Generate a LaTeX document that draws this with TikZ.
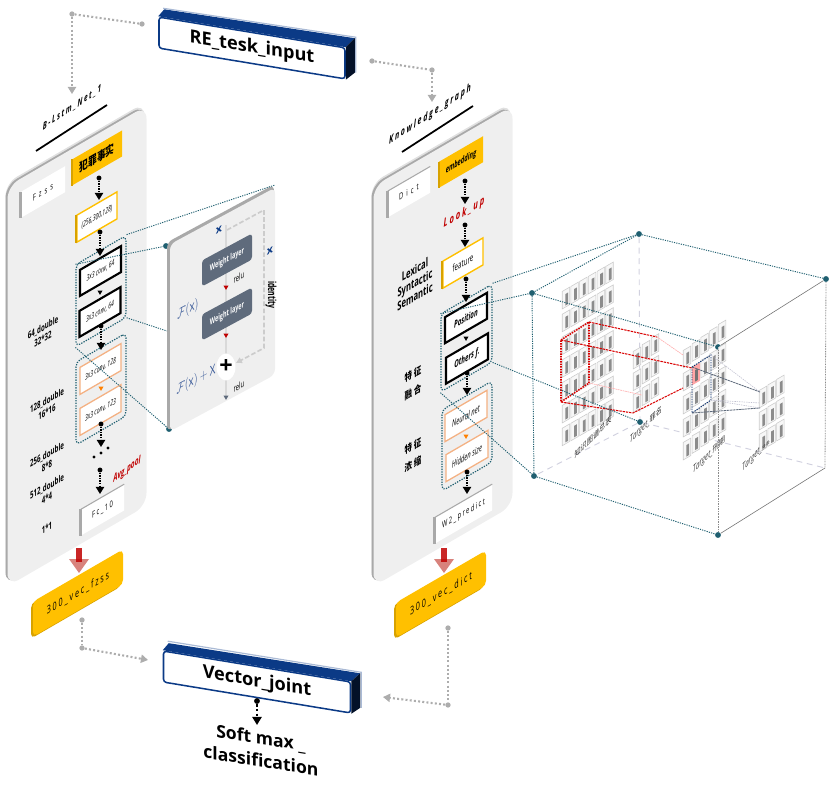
\documentclass[tikz,border=0pt]{standalone}
\usepackage{amsmath}
\usepackage{fontspec}
\usetikzlibrary{arrows.meta,shapes.geometric}
\setmainfont{Open Sans}
\newfontfamily\narrowfont[FakeStretch=0.62]{Open Sans}
\newfontfamily\spacedfont[FakeStretch=0.65,LetterSpace=16]{Open Sans}
\newfontfamily\widefont[FakeStretch=0.65,LetterSpace=34]{Open Sans}
\newfontfamily\cjk[FakeStretch=0.75]{Noto Sans CJK SC}
\definecolor{panelgray}{HTML}{EFEFEF}
\definecolor{edgegray}{HTML}{A9A9A9}
\definecolor{goldfill}{HTML}{FFC000}
\definecolor{golddark}{HTML}{D8A200}
\definecolor{peach}{HTML}{F4B183}
\definecolor{navyblue}{HTML}{0B3A86}
\definecolor{teal}{HTML}{1F5F70}
\definecolor{slate}{HTML}{5F6B7C}
\definecolor{redtext}{HTML}{C00000}
\definecolor{mathblue}{HTML}{3B5B99}
\definecolor{salmon}{HTML}{D8827C}
\def\px{0.03cm}
\tikzset{
  skew/.style={yslant=0.58,transform shape},
  resskew/.style={yslant=0.54,transform shape},
  flatbox/.style={skew,inner sep=0pt,align=center,minimum width=#1*\px},
  panelbox/.style={skew,fill=panelgray,rounded corners=11pt,minimum width=139*\px,minimum height=400*\px},
  panelback/.style={panelbox,fill=edgegray},
  panelshade/.style={panelbox,fill=black!12},
  tagbox/.style={flatbox=#1,fill=white,minimum height=26*\px,font=\spacedfont\fontsize{7.6}{9}\selectfont},
  tagedge/.style={edgegray,line width=2.4pt},
  tagtop/.style={edgegray,line width=0.9pt},
  goldbox/.style={flatbox=#1,fill=goldfill,minimum height=26*\px},
  goldwire/.style={flatbox=#1,fill=white,draw=goldfill,line width=1.2pt,minimum height=27*\px,font=\narrowfont\itshape\fontsize{7}{8}\selectfont},
  blackwire/.style={flatbox=#1,fill=white,draw=black,line width=1.8pt,minimum height=26*\px,font=\narrowfont\itshape\fontsize{7}{8}\selectfont},
  peachwire/.style={flatbox=#1,fill=white,draw=peach,line width=1.1pt,minimum height=27*\px,font=\narrowfont\itshape\fontsize{7}{8}\selectfont},
  groupbox/.style={flatbox=#1,draw=teal,line width=1pt,dash pattern=on 1.1pt off 1.1pt,rounded corners=4pt},
  vecbox/.style={flatbox=90,fill=goldfill,rounded corners=4pt,minimum height=35*\px,font=\spacedfont\fontsize{9.5}{11}\selectfont},
  vecback/.style={flatbox=90,fill=golddark,rounded corners=4pt,minimum height=35*\px},
  bluebox/.style={yslant=-0.165,transform shape,inner sep=0pt,fill=white,draw=navyblue,line width=1.3pt,rounded corners=2.5pt,minimum height=31*\px,font=\bfseries\fontsize{15.5}{17}\selectfont},
  sidelabel/.style={skew,inner sep=0pt,align=center,font=\narrowfont\bfseries\fontsize{8.4}{9.6}\selectfont},
  cjklabel/.style={skew,inner sep=0pt,align=center,font=\cjk\bfseries\fontsize{8.5}{15}\selectfont},
  titlelabel/.style={yslant=0.66,transform shape,inner sep=0pt,font=\spacedfont\itshape\bfseries\fontsize{8.5}{10}\selectfont},
  titlerule/.style={black,line width=1.5pt},
  bdot/.style={circle,fill=black,inner sep=0pt,minimum size=4.2pt},
  flow/.style={black,line width=1.2pt,dash pattern=on 1.1pt off 1.1pt,-{Triangle[length=6pt,width=7pt,sep=0pt]}},
  smalltip/.style={regular polygon,regular polygon sides=3,shape border rotate=180,inner sep=0pt,minimum size=#1},
  graydot/.style={circle,fill=black!32,inner sep=0pt,minimum size=4.5pt},
  graylink/.style={black!32,line width=1.8pt,dash pattern=on 1.7pt off 1.9pt},
  grayarrow/.style={graylink,-{Triangle[length=6pt,width=7pt,sep=0pt]}},
  tealdot/.style={circle,fill=teal,inner sep=0pt,minimum size=5pt},
  teallink/.style={teal,line width=0.8pt,dash pattern=on 1pt off 1pt},
  cubegray/.style={black!55,line width=0.5pt},
  cubedot/.style={black!45,line width=0.7pt,dash pattern=on 0.7pt off 0.7pt},
  cubeback/.style={blue!30!black!18,line width=0.8pt,dash pattern=on 5pt off 4pt},
  cellbox/.style={skew,fill=black!3,draw=black!20,line width=0.5pt,inner sep=0pt,minimum width=7.5*\px,minimum height=17.5*\px},
  cellbar/.style={skew,fill=black!45,inner sep=0pt,minimum width=2.8*\px,minimum height=11.5*\px},
  reddash/.style={red!85!black,line width=0.9pt,dash pattern=on 2pt off 0.8pt},
  redbold/.style={red!85!black,line width=1.3pt,dash pattern=on 1.3pt off 0.9pt},
  pinkdash/.style={red!30,line width=0.6pt,dash pattern=on 1.5pt off 0.6pt},
  navydash/.style={navyblue!80!black,line width=0.8pt,dash pattern=on 1.1pt off 1pt},
  slatedash/.style={slate,line width=0.7pt,dash pattern=on 2pt off 0.5pt},
  palelink/.style={blue!25!black!25,line width=0.5pt,dash pattern=on 1.2pt off 0.8pt},
  cubetext/.style={yslant=1,transform shape,inner sep=0pt,text=black!80,font=\narrowfont\itshape\fontsize{8.5}{10}\selectfont},
  weightbox/.style={resskew,fill=slate,rounded corners=2.5pt,minimum width=50*\px,minimum height=26*\px,inner sep=0pt,text=white,font=\narrowfont\bfseries\fontsize{7.5}{9}\selectfont},
  resmath/.style={resskew,xscale=0.72,inner sep=0pt,text=mathblue,font=\fontsize{11.5}{13}\selectfont},
}
\begin{document}
\begin{tikzpicture}[x=\px,y=-\px]
  \useasboundingbox (0,0) rectangle (829,793);
  % #1 name, #2 #3 first cell, #4 last column, #5 last row, #6 #7 column step, #8 row step
  \def\cellblock#1#2#3#4#5#6#7#8{
    \foreach \i in {0,...,#4}{
      \foreach \j in {0,...,#5}{
        \node[cellbox] (#1-\i-\j) at ({#2+\i*#6},{#3+\i*#7+\j*#8}) {};
        \node[cellbar] (#1bar-\i-\j) at ({#2+\i*#6+0.8},{#3+\i*#7+\j*#8+1}) {};
      }
    }
  }

  % Cube back edges
  \coordinate (cubeG) at (825,468);
  \node[tealdot] (cubeA) at (639,234) {};
  \node[tealdot] (cubeB) at (532,293) {};
  \node[tealdot] (cubeC) at (718,347) {};
  \node[tealdot] (cubeD) at (826,279) {};
  \node[tealdot] (cubeE) at (534,476) {};
  \node[tealdot] (cubeF) at (718,535) {};
  \node[tealdot] (cubeH) at (640,422) {};
  \draw[cubeback] (cubeA) -- (cubeH);
  \draw[cubeback] (cubeH) -- (cubeE);
  \draw[cubeback] (cubeH) -- (cubeG);

  % Left panel
  \node[panelshade] (leftshade) at (75,343) {};
  \node[panelback] (leftback) at (75,345) {};
  \node[panelbox] (leftpanel) at (77,346) {};
  \node[titlelabel] (lefttitle) at (72,108) {B-Lstm\_Net\_1};
  \coordinate (leftruleA) at (36,151);
  \coordinate (leftruleB) at (107,105);
  \draw[titlerule] (leftruleA) -- (leftruleB);
  \node[tagbox=44,font=\widefont\fontsize{7.6}{9}\selectfont] (fzss) at (43,192) {Fzss};
  \draw[tagedge] (fzss.north west) -- (fzss.south west);
  \node[goldbox=50,font=\cjk\bfseries\fontsize{10}{11}\selectfont] (facts) at (97,158) {犯罪事实};
  \draw[golddark,line width=1.6pt] (facts.north west) -- (facts.south west);
  \node[goldwire=40] (inputsize) at (97,217) {(256,300,128)};
  \draw[golddark,line width=1.8pt] (inputsize.north west) -- (inputsize.south west);
  \node[blackwire=41] (convA) at (100.5,271) {3x3 conv, 64};
  \node[blackwire=41] (convB) at (100,312) {3x3 conv, 64};
  \node[peachwire=41] (convC) at (100.5,369) {3x3 conv, 128};
  \node[peachwire=41] (convD) at (100.5,410) {3x3 conv, 123};
  \node[groupbox=50,minimum height=82*\px] (leftgroupA) at (101,291) {};
  \node[groupbox=50,minimum height=83*\px] (leftgroupB) at (101,389) {};
  \node[smalltip=5pt,fill=black] (tipA) at (100,292) {};
  \node[smalltip=5pt,fill=orange] (tipB) at (101,388) {};
  \node[bdot,minimum size=2.6pt] (gapA) at (94,457) {};
  \node[bdot,minimum size=2.6pt] (gapB) at (101,453) {};
  \node[bdot,minimum size=2.6pt] (gapC) at (108,448) {};
  \node[yslant=0.75,transform shape,inner sep=0pt,text=redtext,font=\narrowfont\bfseries\itshape\fontsize{9}{10}\selectfont] (avgpool) at (127,470) {Avg\_pool};
  \node[tagbox=43] (fcten) at (102.5,510) {Fc\_10};
  \draw[tagedge] (fcten.north west) -- (fcten.south west);
  \draw[tagtop] (fcten.north west) -- (fcten.north east);
  \node[sidelabel] (scaleA) at (43,333) {64\_double\\32*32};
  \node[sidelabel] (scaleB) at (47,406) {128\_double\\16*16};
  \node[sidelabel] (scaleC) at (47,460) {256\_double\\8*8};
  \node[sidelabel] (scaleD) at (47,492) {512\_double\\4*4};
  \node[sidelabel] (scaleE) at (47,528) {1*1};

  % Right panel
  \node[panelshade] (rightshade) at (441,343) {};
  \node[panelback] (rightback) at (441,345) {};
  \node[panelbox] (rightpanel) at (443,346) {};
  \node[titlelabel,font=\spacedfont\itshape\bfseries\fontsize{9.2}{10}\selectfont] (righttitle) at (430,115) {Knowledge\_graph};
  \coordinate (rightruleA) at (402,152);
  \coordinate (rightruleB) at (473,106);
  \draw[titlerule] (rightruleA) -- (rightruleB);
  \node[tagbox=42,font=\widefont\fontsize{7.6}{9}\selectfont] (dict) at (409,192) {Dict};
  \draw[tagedge] (dict.north west) -- (dict.south west);
  \draw[tagtop] (dict.north west) -- (dict.north east);
  \node[goldbox=44,font=\narrowfont\bfseries\itshape\fontsize{8}{9}\selectfont] (embed) at (461,162) {embedding};
  \draw[golddark,line width=1.6pt] (embed.north west) -- (embed.south west);
  \node[skew,inner sep=0pt,text=redtext,font=\spacedfont\bfseries\itshape\fontsize{10}{11}\selectfont] (lookup) at (464,213) {Look\_up};
  \node[goldwire=40,font=\narrowfont\fontsize{8.5}{10}\selectfont] (feature) at (463,263) {feature};
  \draw[golddark,line width=1.8pt] (feature.north west) -- (feature.south west);
  \node[blackwire=42,font=\narrowfont\bfseries\itshape\fontsize{8.5}{10}\selectfont] (position) at (466,318) {Position};
  \node[blackwire=42,font=\narrowfont\bfseries\itshape\fontsize{8.5}{10}\selectfont] (others) at (467,358.5) {Others f.};
  \node[peachwire=42,font=\narrowfont\itshape\fontsize{8.2}{10}\selectfont] (neural) at (466,416) {Neural net};
  \node[peachwire=42,font=\narrowfont\itshape\fontsize{8.2}{10}\selectfont] (hidden) at (467,456) {Hidden size};
  \node[groupbox=51,minimum height=78*\px] (rightgroupA) at (466.5,338) {};
  \node[groupbox=50,minimum height=81*\px] (rightgroupB) at (467,436) {};
  \node[smalltip=5pt,fill=black] (tipC) at (466,338) {};
  \node[smalltip=5pt,fill=orange] (tipD) at (466,436) {};
  \node[tagbox=57] (wpredict) at (463.5,514) {W2\_predict};
  \draw[tagedge] (wpredict.north west) -- (wpredict.south west);
  \draw[tagtop] (wpredict.north west) -- (wpredict.north east);
  \node[sidelabel,font=\narrowfont\bfseries\fontsize{10.5}{11.5}\selectfont] (lexical) at (415,283) {Lexical\\Syntactic\\Semantic};
  \node[cjklabel] (fusion) at (413,383) {特\,征\\融\,合};
  \node[cjklabel] (condense) at (413,455) {特\,征\\浓\,缩};

  % Arrows inside the panels
  \foreach \n/\ax/\ay/\by in {a/99/178/200,b/100/232/256,c/101/326/350,d/101/424/447,e/100/470/494,
    f/465/181/204,g/465/225/247,h/466/279/302,k/467/373/395,m/467/472/494}{
    \node[bdot] (dot\n) at (\ax,\ay) {};
    \coordinate (end\n) at (\ax,\by);
    \draw[flow] (dot\n) -- (end\n);
  }

  % Red arrows out of the panels
  \foreach \n/\ax/\ay in {fzss/79/548,dict/444/548}{
    \coordinate (red\n) at (\ax,\ay);
    \coordinate (redend\n) at (\ax,\ay+14);
    \coordinate (redtipA\n) at (\ax-10,\ay+11);
    \coordinate (redtipB\n) at (\ax+10,\ay+11);
    \coordinate (redtipC\n) at (\ax,\ay+25);
    \fill[salmon] (redtipA\n) -- (redtipB\n) -- (redtipC\n) -- cycle;
    \draw[red!75!black,line width=5pt,opacity=0.85] (red\n) -- (redend\n);
  }
  \node[vecback] (vecfzssback) at (76,595) {};
  \node[vecbox] (vecfzss) at (78,593) {300\_vec\_fzss};
  \node[vecback] (vecdictback) at (439,596) {};
  \node[vecbox] (vecdict) at (441,594) {300\_vec\_dict};

  % Residual block panel
  \node[tealdot] (resA) at (166,246) {};
  \node[tealdot] (resB) at (169,429) {};
  \node[resskew,fill=edgegray,rounded corners=5pt,minimum width=107*\px,minimum height=189*\px] (resback) at (220.5,308) {};
  \node[resskew,fill=panelgray,rounded corners=5pt,minimum width=105*\px,minimum height=187*\px] (respanel) at (222.5,309.5) {};
  \coordinate (resline) at (226,225);
  \coordinate (reslineend) at (226,397);
  \draw[black!15,line width=2.2pt] (resline) -- (reslineend);
  \coordinate (idA) at (227,230);
  \coordinate (idB) at (264,210);
  \coordinate (idC) at (264,348);
  \coordinate (idD) at (236,363);
  \draw[black!20,line width=1.4pt,dash pattern=on 4pt off 2pt,-{Triangle[length=5pt,width=5pt]}] (idA) -- (idB) -- (idC) -- (idD);
  \node[resskew,inner sep=0pt,text=navyblue,font=\bfseries\fontsize{9}{10}\selectfont] (resx) at (219,230) {x};
  \node[resskew,inner sep=0pt,text=navyblue,font=\bfseries\fontsize{9}{10}\selectfont] (resxx) at (270,251) {x};
  \node[rotate=-90,transform shape,inner sep=0pt,font=\narrowfont\bfseries\fontsize{9.5}{10}\selectfont] (identity) at (271,295) {identity};
  \node[weightbox] (weightA) at (227,260) {Weight layer};
  \node[weightbox] (weightB) at (227,314) {Weight layer};
  \node[resskew,inner sep=0pt,font=\narrowfont\fontsize{8}{9}\selectfont] (reluA) at (239,277) {relu};
  \node[resskew,inner sep=0pt,font=\narrowfont\fontsize{8}{9}\selectfont] (reluB) at (239,386) {relu};
  \node[smalltip=5pt,fill=red!75!black] (tipE) at (226,287) {};
  \node[smalltip=5pt,fill=red!75!black] (tipF) at (226,335) {};
  \node[smalltip=5pt,fill=slate] (tipG) at (226,397) {};
  \node[ellipse,fill=white,minimum width=16*\px,minimum height=27*\px,inner sep=0pt,font=\bfseries\fontsize{20}{20}\selectfont] (plus) at (226,367) {+};
  \node[resmath] (fofx) at (188,310) {$\mathcal{F}(\mathrm{x})$};
  \node[resmath] (fofxplus) at (196,380) {$\mathcal{F}(\mathrm{x})+\mathrm{X}$};

  % From the conv group to the residual panel
  \coordinate (resC) at (275,185);
  \coordinate (resD) at (167,331);
  \draw[teallink] (leftgroupA.north east) -- (resC);
  \draw[teallink] (leftgroupA.north west) -- (resA);
  \draw[teallink] (leftgroupA.south east) -- (resD);
  \draw[teallink] (leftgroupA.south west) -- (resB);

  % Feature grids
  \cellblock{know}{566}{298}{5}{6}{8.7}{-5}{22.8}
  \cellblock{charge}{637}{358}{2}{2}{9}{-6.7}{21.7}
  \cellblock{term}{687}{357}{4}{4}{8.8}{-6.5}{23}
  \cellblock{law}{763}{397}{2}{2}{8.7}{-5.5}{22}
  \node[skew,fill=red!35,inner sep=0pt,minimum width=8*\px,minimum height=18*\px] (pinkcell) at (696,374) {};
  \node[cellbar,fill=black!55] (pinkbar) at (696.5,375) {};
  \node[cubetext,font=\cjk\fontsize{7}{8}\selectfont] (knowlabel) at (593,437) {知识图谱总表};
  \node[cubetext] (chargelabel) at (646,425) {Target\_{\cjk\fontsize{7}{8}\selectfont 罪名}};
  \node[cubetext] (termlabel) at (709,455) {Target\_{\cjk\fontsize{7}{8}\selectfont 刑期}};
  \node[cubetext] (lawlabel) at (756,455) {Target\_{\cjk\fontsize{4.5}{6}\selectfont 法条}};

  % Red window
  \coordinate (redA) at (561,340);
  \coordinate (redB) at (589,322);
  \coordinate (redC) at (589,383);
  \coordinate (redD) at (561,402);
  \coordinate (redE) at (692,368);
  \coordinate (redF) at (657,337);
  \coordinate (redG) at (633,413);
  \coordinate (redH) at (683,388);
  \coordinate (redK) at (683,355);
  \coordinate (redM) at (642,395);
  \draw[redbold] (redA) -- (redB) -- (redC) -- (redD) -- cycle;
  \draw[reddash] (redA) -- (redE);
  \draw[reddash] (redB) -- (redF);
  \draw[reddash] (redD) -- (redG) -- (redH);
  \draw[pinkdash] (redF) -- (redK);
  \draw[pinkdash] (redC) -- (redM);

  % Navy window
  \coordinate (winA) at (692,367);
  \coordinate (winB) at (711,355);
  \coordinate (winC) at (711,400);
  \coordinate (winD) at (692,413);
  \coordinate (lawA) at (760,392);
  \coordinate (lawB) at (760,403);
  \coordinate (lawC) at (760,408);
  \draw[navydash] (winA) -- (winB) -- (winC) -- (winD) -- cycle;
  \draw[slatedash] (winA) -- (lawA);
  \draw[slatedash] (winD) -- (lawC);
  \draw[palelink] (winB) -- (lawA);
  \draw[palelink] (winC) -- (lawB);
  \draw[palelink] (winC) -- (lawC);

  % Cube front edges
  \draw[teallink] (cubeA) -- (cubeB);
  \draw[teallink] (cubeB) -- (cubeC);
  \draw[teallink] (cubeA) -- (cubeD);
  \draw[teallink] (cubeB) -- (cubeE);
  \draw[teallink] (cubeE) -- (cubeF);
  \draw[cubegray] (cubeC) -- (cubeD);
  \draw[cubedot] (cubeD) -- (cubeG);
  \draw[cubedot] (cubeC) -- (cubeF);
  \draw[cubegray] (cubeF) -- (cubeG);
  \draw[teallink] (rightgroupA.north east) -- (cubeA);
  \draw[teallink] (rightgroupA.north west) -- (cubeB);
  \draw[teallink] (rightgroupA.south east) -- (cubeH);
  \draw[teallink] (rightgroupA.south west) -- (cubeE);

  % Input box
  \node[bluebox,minimum width=186*\px] (retask) at (252,48) {RE\_tesk\_input};
  \fill[navyblue] (retask.north west) -- ([shift={(6,-7)}]retask.north west) -- ([shift={(9,-9)}]retask.north east) -- (retask.north east) -- cycle;
  \fill[black!70!navyblue] (retask.north east) -- ([shift={(9,-9)}]retask.north east) -- ([shift={(9,-7)}]retask.south east) -- (retask.south east) -- cycle;
  \draw[navyblue!35,line width=1pt] ([shift={(5,-8)}]retask.north west) -- ([shift={(10,-10)}]retask.north east) -- ([shift={(10,-7)}]retask.south east);

  % Joint box
  \node[bluebox,minimum width=187*\px] (joint) at (257,682) {Vector\_joint};
  \fill[navyblue] (joint.north west) -- ([shift={(6,-7)}]joint.north west) -- ([shift={(9,-8)}]joint.north east) -- (joint.north east) -- cycle;
  \fill[black!70!navyblue] (joint.north east) -- ([shift={(9,-8)}]joint.north east) -- ([shift={(9,-6)}]joint.south east) -- (joint.south east) -- cycle;
  \draw[navyblue!35,line width=1pt] ([shift={(5,-9)}]joint.north west) -- ([shift={(10,-9)}]joint.north east) -- ([shift={(10,-6)}]joint.south east);
  \node[yslant=-0.16,transform shape,inner sep=0pt,align=center,font=\bfseries\fontsize{15}{19.5}\selectfont] (softmax) at (261,749) {Soft max \_\\classification};
  \node[bdot,minimum size=5pt] (dotjoint) at (257,701) {};
  \coordinate (endjoint) at (257,725);
  \draw[black,line width=1.6pt,dash pattern=on 2pt off 2pt,-{Triangle[length=7pt,width=8pt,sep=0pt]}] (dotjoint) -- (endjoint);

  % Gray links between the blocks
  \node[graydot] (topL) at (142,24) {};
  \node[graydot] (cornerL) at (72,14) {};
  \coordinate (topLend) at (72,94);
  \draw[graylink] (topL) -- (cornerL);
  \draw[grayarrow] (cornerL) -- (topLend);
  \node[graydot] (topR) at (372,61) {};
  \node[graydot] (cornerR) at (432,70) {};
  \coordinate (topRend) at (432,102);
  \draw[graylink] (topR) -- (cornerR);
  \draw[grayarrow] (cornerR) -- (topRend);
  \node[graydot] (botL) at (82,620) {};
  \node[graydot] (cornerB) at (82,648) {};
  \coordinate (botLend) at (148,660);
  \draw[graylink] (botL) -- (cornerB);
  \draw[grayarrow] (cornerB) -- (botLend);
  \node[graydot] (botR) at (448,628) {};
  \node[graydot] (cornerC) at (448,705) {};
  \coordinate (botRend) at (383,697);
  \draw[graylink] (botR) -- (cornerC);
  \draw[grayarrow] (cornerC) -- (botRend);
\end{tikzpicture}
\end{document}
